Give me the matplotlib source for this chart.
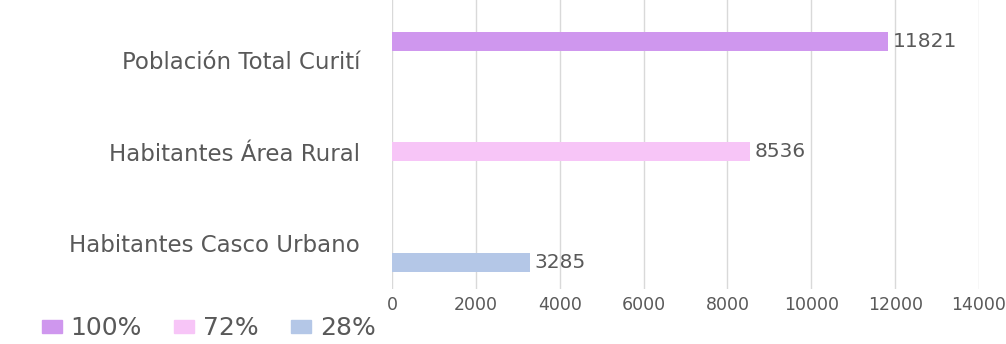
import matplotlib.pyplot as plt
import numpy as np
from matplotlib.patches import Patch

# data
categories = ["Población Total Curití", "Habitantes Área Rural", "Habitantes Casco Urbano"]
series_names = ["100%", "72%", "28%"]
series_values = [
    [11821, 0, 0],   # 100%
    [0, 8536, 0],    # 72%
    [0, 0, 3285],    # 28%
]
colors = ["#CF97EE", "#F7C5F7", "#B4C7E7"]
x_ticks = [0, 2000, 4000, 6000, 8000, 10000, 12000, 14000]

plt.rcParams["font.family"] = ["DejaVu Sans"]
text_color = "#595959"

fig = plt.figure(figsize=(10.06, 3.44), dpi=100)
ax = fig.add_axes([392 / 1006, 1 - 289 / 344, (979 - 392) / 1006, 289 / 344])

y = np.arange(len(categories))
bar_h = 0.208
offsets = [-bar_h, 0, bar_h]

for i, (name, vals) in enumerate(zip(series_names, series_values)):
    vals = np.array(vals)
    bars = ax.barh(y + offsets[i], vals, height=bar_h, color=colors[i],
                   linewidth=0, zorder=3)
    for b, v in zip(bars, vals):
        if v > 0:
            ax.text(v + 120, b.get_y() + b.get_height() / 2, str(v),
                    va="center", ha="left", fontsize=14.5, color=text_color)

ax.set_xlim(0, 14000)
ax.set_ylim(2.5, -0.656)
ax.set_xticks(x_ticks)
ax.set_xticklabels([str(t) for t in x_ticks], fontsize=12.5, color=text_color)
ax.set_yticks(y)
ax.set_yticklabels(categories, fontsize=16.5, color=text_color)
ax.tick_params(axis="y", length=0, pad=23)
ax.tick_params(axis="x", length=0, pad=5)
ax.grid(axis="x", color="#D9D9D9", linewidth=1, zorder=0)
for s in ax.spines.values():
    s.set_visible(False)

handles = [Patch(facecolor=c, edgecolor=c) for c in colors]
fig.legend(handles, series_names, loc="lower left", bbox_to_anchor=(0.019, -0.055),
           ncol=3, frameon=False, fontsize=18, labelcolor=text_color,
           handlelength=0.8, handleheight=0.45, handletextpad=0.35, columnspacing=1.3)

fig.savefig("out.png", dpi=100)
